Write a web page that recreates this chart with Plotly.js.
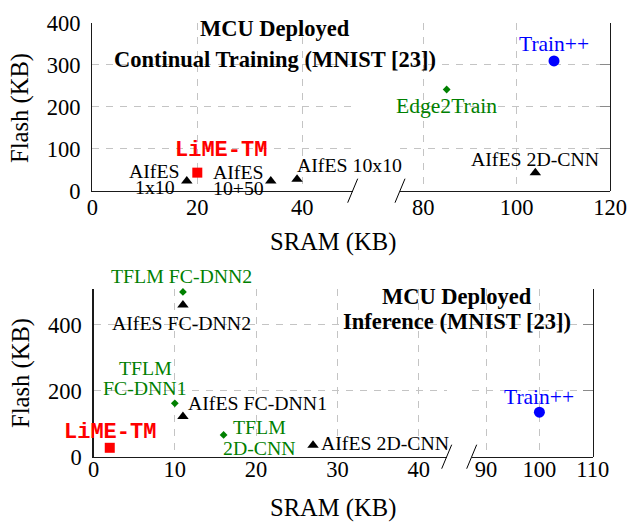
<!DOCTYPE html>
<html>
<head>
<meta charset="utf-8">
<script src="https://cdn.plot.ly/plotly-3.0.1.min.js"></script>
<style>html,body{margin:0;padding:0;background:#fff}</style>
</head>
<body>
<div id="chart" style="width:639px;height:523px"></div>
<script>
// Top panel: MCU deployed continual training (MNIST)
const trainNames = ['AIfES<br>1x10', 'LiME-TM', 'AIfES<br>10+50', 'AIfES 10x10', 'Edge2Train', 'Train++', 'AIfES 2D-CNN'];
const trainGroup = ['aifes', 'lime', 'aifes', 'aifes', 'tflm', 'trainpp', 'aifes'];
const trainSram = [18, 20, 34, 39, 85, 108, 104];
const trainFlash = [23, 43, 23, 27, 241, 309, 43];

// Bottom panel: MCU deployed inference (MNIST)
const inferNames = ['TFLM FC-DNN2', 'AIfES FC-DNN2', 'TFLM<br>FC-DNN1', 'AIfES FC-DNN1', 'TFLM<br>2D-CNN', 'AIfES 2D-CNN', 'LiME-TM', 'Train++'];
const inferGroup = ['tflm', 'aifes', 'tflm', 'aifes', 'tflm', 'aifes', 'lime', 'trainpp'];
const inferSram = [11, 11, 10, 11, 16, 27, 2, 100];
const inferFlash = [500, 460, 162, 122, 66, 35, 27, 135];

// label placement relative to the marker: [dx, dy (down), line gap, font size]
const trainLabelPos = [[-32, -2, 16.5, 19.8], [24, -22, 0, 22], [-32, -1, 16.5, 19.8], [52, -14, 0, 19.8],
  [0, 17, 0, 21.6], [0, -16.5, 0, 21.5], [0, -13.5, 0, 19.8]];
const inferLabelPos = [[-1, -15.5, 0, 19.8], [-1, 18, 0, 19.8], [-29.5, -25, 20, 19.8], [75, -14, 0, 19.8],
  [36, 2.5, 21.6, 19.8], [72, -2, 0, 19.8], [0.7, -15, 0, 22], [0, -15.2, 0, 21.5]];

const SERIF = '"Liberation Serif", "Times New Roman", serif';
const MONO = '"Liberation Mono", "Courier New", monospace';
const W = 639, H = 523;
const px = v => v / W;
const py = v => 1 - v / H;

const groupStyle = {
  aifes: {symbol: 'triangle-up', color: '#000000', size: 10, family: SERIF, bold: false},
  lime: {symbol: 'square', color: '#ff0000', size: 10, family: MONO, bold: true},
  tflm: {symbol: 'diamond', color: '#008000', size: 6, family: SERIF, bold: false},
  trainpp: {symbol: 'circle', color: '#0000ff', size: 11, family: SERIF, bold: false}
};

// pixel frames of the broken axes
const panels = [
  {names: trainNames, group: trainGroup, sram: trainSram, flash: trainFlash, pos: trainLabelPos,
   xa: 'x', xb: 'x2', ya: 'y', yr: 'y3', leftMax: 49.6,
   left: [92.3, 352.7], right: [400, 610], top: 22.7, bottom: 190.7},
  {names: inferNames, group: inferGroup, sram: inferSram, flash: inferFlash, pos: inferLabelPos,
   xa: 'x3', xb: 'x4', ya: 'y2', yr: 'y4', leftMax: 43.44,
   left: [93.5, 446.7], right: [471.7, 592.7], top: 289.3, bottom: 456.7}
];

const traces = [];
const annotations = [];
const shapes = [];

panels.forEach(p => {
  p.names.forEach((name, i) => {
    const st = groupStyle[p.group[i]];
    const xref = p.sram[i] > p.leftMax ? p.xb : p.xa;
    traces.push({
      type: 'scatter', mode: 'markers', x: [p.sram[i]], y: [p.flash[i]],
      xaxis: xref, yaxis: p.ya, cliponaxis: false, hoverinfo: 'skip',
      marker: {symbol: st.symbol, color: st.color, size: st.size, line: {width: 0}}
    });
    const [dx, dy, gap, size] = p.pos[i];
    const lines = name.split('<br>');
    lines.forEach((line, j) => {
      const off = dy + (j - (lines.length - 1) / 2) * gap;
      annotations.push({
        xref: xref, yref: p.ya, x: p.sram[i], y: p.flash[i],
        text: st.bold ? '<b>' + line + '</b>' : line,
        xshift: dx, yshift: -off, showarrow: false, xanchor: 'center', yanchor: 'middle',
        font: {family: st.family, size: size, color: st.color}
      });
    });
  });
  // empty traces so the right-hand axes get drawn
  traces.push({type: 'scatter', x: [], y: [], xaxis: p.xb, yaxis: p.yr, hoverinfo: 'skip'});

  // axis break marks
  [p.left[1], p.right[0]].forEach(cx => {
    shapes.push({type: 'line', xref: 'paper', yref: 'paper',
      x0: px(cx + 5), y0: py(p.bottom - 12), x1: px(cx - 5), y1: py(p.bottom + 12),
      line: {color: '#000', width: 1}});
  });
});

function titleNote(text, x, y, size, angle) {
  return {xref: 'paper', yref: 'paper', x: px(x), y: py(y), text: text, showarrow: false,
    xanchor: 'center', yanchor: 'middle', textangle: angle || 0,
    font: {family: SERIF, size: size, color: '#000'}};
}
annotations.push(titleNote('<b>MCU Deployed</b>', 275, 28.5, 22.5));
annotations.push(titleNote('<b>Continual Training (MNIST [23])</b>', 275, 59, 22.5));
annotations.push(titleNote('<b>MCU Deployed</b>', 457, 296.5, 22.5));
annotations.push(titleNote('<b>Inference (MNIST [23])</b>', 457, 321, 22.5));
annotations.push(titleNote('SRAM (KB)', 333, 241.5, 24.6));
annotations.push(titleNote('SRAM (KB)', 333, 507.5, 24.6));
annotations.push(titleNote('Flash (KB)', 20, 108, 24.6, -90));
annotations.push(titleNote('Flash (KB)', 21, 373, 24.6, -90));

const gridStyle = {showgrid: true, gridcolor: '#c4c4c4', gridwidth: 1, griddash: '7px,7px',
  zeroline: false, showline: true, linecolor: '#1a1a1a', linewidth: 1.2, ticks: '',
  tickfont: {family: SERIF, size: 22.5, color: '#000'}, fixedrange: true};
const rightAxis = {showgrid: false, zeroline: false, showline: true, linecolor: '#1a1a1a', linewidth: 1.2,
  ticks: 'inside', ticklen: 10, tickcolor: '#8a8a8a', tickwidth: 1, showticklabels: false,
  side: 'right', anchor: 'free'};

const layout = {
  width: W, height: H, margin: {l: 0, r: 0, t: 0, b: 0},
  paper_bgcolor: '#ffffff', plot_bgcolor: 'rgba(0,0,0,0)', showlegend: false,
  font: {family: SERIF, size: 22.5, color: '#000'},
  xaxis: Object.assign({}, gridStyle, {domain: [px(92.3), px(352.7)], range: [0, 49.6], anchor: 'y',
    tick0: 0, dtick: 20, ticklabelstandoff: -4}),
  xaxis2: Object.assign({}, gridStyle, {domain: [px(400), px(610)], range: [75, 120], anchor: 'y',
    tick0: 0, dtick: 20, ticklabelstandoff: -4}),
  yaxis: Object.assign({}, gridStyle, {domain: [py(190.7), py(22.7)], range: [0, 400], anchor: 'x',
    tick0: 0, dtick: 100, ticklabelstandoff: 6}),
  yaxis3: Object.assign({}, rightAxis, {overlaying: 'y', position: px(610), range: [0, 400], tick0: 0, dtick: 100}),
  xaxis3: Object.assign({}, gridStyle, {domain: [px(93.5), px(446.7)], range: [0, 43.44], anchor: 'y2',
    tick0: 0, dtick: 10, ticklabelstandoff: -8}),
  xaxis4: Object.assign({}, gridStyle, {domain: [px(471.7), px(592.7)], range: [87.3, 110], anchor: 'y2',
    tick0: 0, dtick: 10, ticklabelstandoff: -8}),
  yaxis2: Object.assign({}, gridStyle, {domain: [py(456.7), py(289.3)], range: [0, 508], anchor: 'x3',
    tick0: 0, dtick: 200, ticklabelstandoff: 6}),
  yaxis4: Object.assign({}, rightAxis, {overlaying: 'y2', position: px(592.7), range: [0, 508], tick0: 0, dtick: 200}),
  annotations: annotations,
  shapes: shapes
};

Plotly.newPlot('chart', traces, layout, {displayModeBar: false, staticPlot: true});
</script>
</body>
</html>
